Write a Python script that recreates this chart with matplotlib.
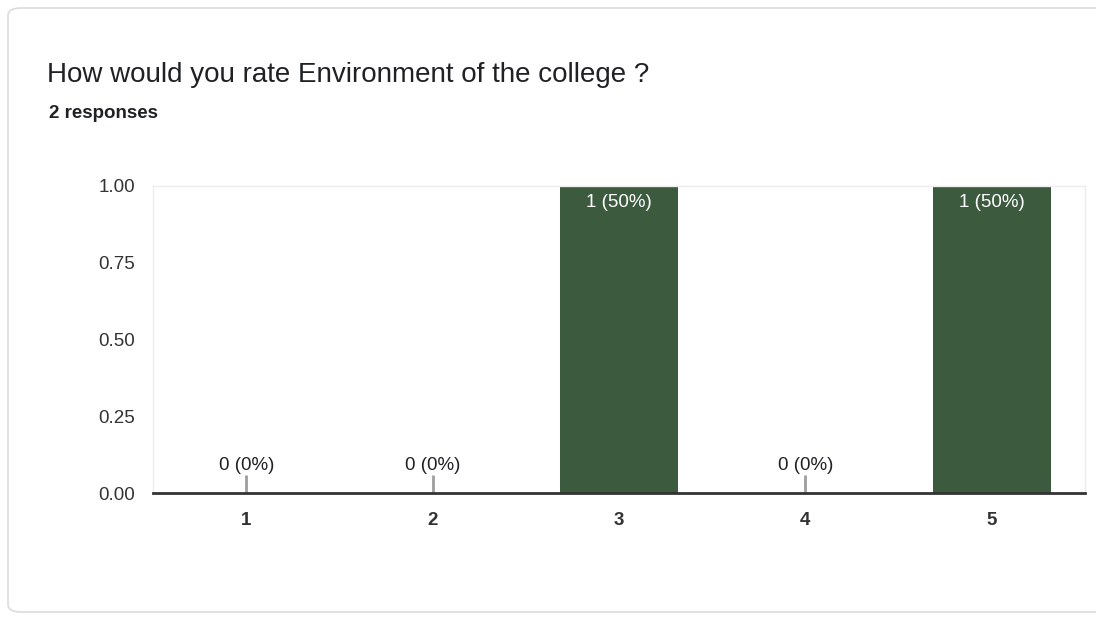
import matplotlib
matplotlib.use("Agg")
import matplotlib.pyplot as plt
from matplotlib.patches import FancyBboxPatch

categories = ["1", "2", "3", "4", "5"]
counts = [0, 0, 1, 0, 1]
labels = ["0 (0%)", "0 (0%)", "1 (50%)", "0 (0%)", "1 (50%)"]
yticks = [0.0, 0.25, 0.5, 0.75, 1.0]
ytick_labels = ["0.00", "0.25", "0.50", "0.75", "1.00"]
title = "How would you rate Environment of the college ?"
subtitle = "2 responses"

W, H = 1096, 617
plt.rcParams['font.family'] = ['Liberation Sans', 'DejaVu Sans']
fig = plt.figure(figsize=(W / 100, H / 100), dpi=100)
fig.patch.set_facecolor("white")

# card
card = FancyBboxPatch((8 / W, 5 / H), 1.2, (H - 13) / H,
                      boxstyle="round,pad=0,rounding_size=0.012",
                      transform=fig.transFigure, facecolor="white",
                      edgecolor="#dadce0", linewidth=1.2, zorder=-10)
fig.patches.append(card)

fig.text(47 / W, 1 - 75 / H, title, fontsize=20, color="#202124", va="center", ha="left")
fig.text(49 / W, 1 - 114 / H, subtitle, fontsize=13.5, color="#202124", va="center",
         ha="left", fontweight="bold")

left, right, top, bottom = 153, 1085, 186, 493
ax = fig.add_axes([left / W, 1 - bottom / H, (right - left) / W, (bottom - top) / H])
ax.set_facecolor("white")
x = list(range(1, len(categories) + 1))
ax.bar(x, counts, width=0.63, color="#3b5a3e", zorder=2)
ax.set_xlim(0.5, 5.5)
ax.set_ylim(0, 1.0)
ax.set_yticks(yticks)
ax.set_yticklabels(ytick_labels)
ax.set_xticks(x)
ax.set_xticklabels(categories, fontweight="bold")
ax.tick_params(axis="both", length=0, labelsize=13.5, colors="#333333")
ax.tick_params(axis="y", pad=13)
ax.tick_params(axis="x", pad=14)
for s in ["top", "right", "left"]:
    ax.spines[s].set_color("#ececec")
    ax.spines[s].set_linewidth(1.0)
ax.spines["bottom"].set_color("#333333")
ax.spines["bottom"].set_linewidth(2)
ax.spines["bottom"].set_zorder(4)

for xi, c, lab in zip(x, counts, labels):
    if c > 0:
        ax.annotate(lab, (xi, c), xytext=(0, -12), textcoords="offset points",
                    ha="center", va="center", color="white", fontsize=13.5, zorder=3)
    else:
        ax.plot([xi, xi], [0, 0.06], color="#9e9e9e", lw=2, zorder=3, solid_capstyle="butt")
        ax.annotate(lab, (xi, 0), xytext=(0, 20), textcoords="offset points",
                    ha="center", va="center", color="#202124", fontsize=13.5, zorder=3)

fig.savefig("out.png", dpi=100)
